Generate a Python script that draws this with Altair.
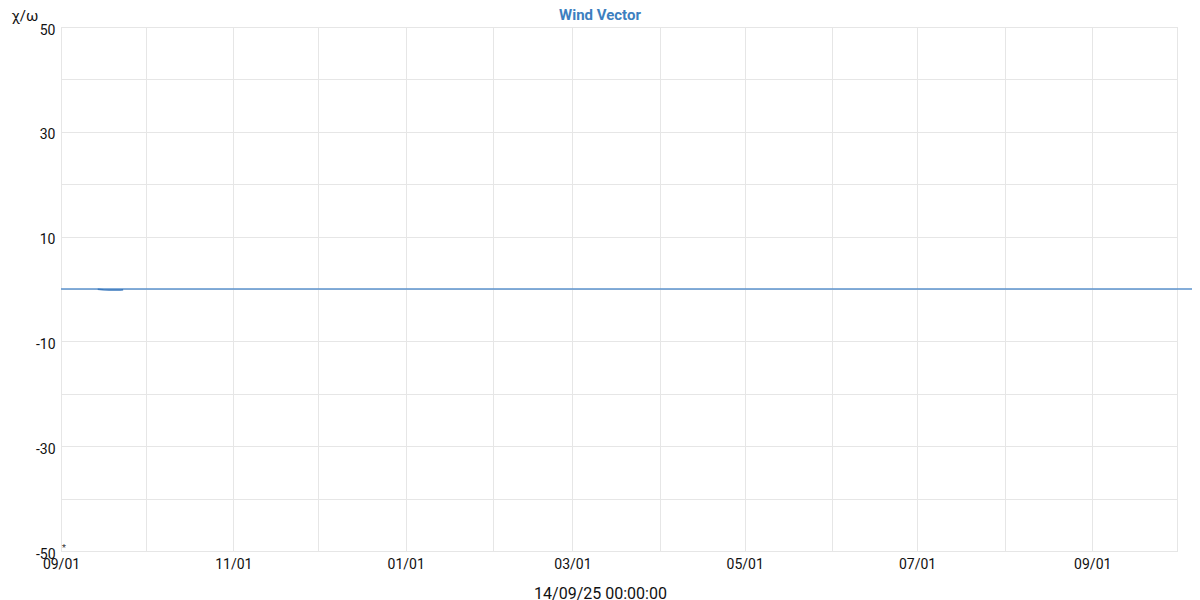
import altair as alt
import pandas as pd

# baseline series (whole span)
base_dates = ["2025-09-01", "2026-10-10"]
base_values = [0.0, 0.0]

# measured wind vector segment
seg_dates = ["2025-09-14", "2025-09-16", "2025-09-18", "2025-09-20", "2025-09-22", "2025-09-23"]
seg_values = [-0.05, -0.15, -0.2, -0.2, -0.2, -0.15]

y_ticks = [-50, -40, -30, -20, -10, 0, 10, 20, 30, 40, 50]
month_ticks = [(2025, m) for m in range(9, 13)] + [(2026, m) for m in range(1, 11)]

chart_title = ["Wind Vector"]

base_df = pd.DataFrame({"date": base_dates, "value": base_values})
seg_df = pd.DataFrame({"date": seg_dates, "value": seg_values})
star_df = pd.DataFrame({"date": ["2025-09-01"], "value": [-50], "label": ["*"]})
title_df = pd.DataFrame({"t": chart_title})

FONT = "Roboto"

x_scale = alt.Scale(
    type="utc",
    domain=[alt.DateTime(year=2025, month=9, date=1, utc=True),
            alt.DateTime(year=2026, month=10, date=1, utc=True)],
    nice=False,
)
y_scale = alt.Scale(domain=[-50, 50], nice=False)

x_axis = alt.Axis(
    values=[alt.DateTime(year=y, month=m, date=1, utc=True) for y, m in month_ticks],
    labelExpr="utcmonth(datum.value) % 2 == 0 ? utcFormat(datum.value, '%m/%d') : ''",
    title="14/09/25 00:00:00",
    titleFont=FONT, titleFontSize=16, titleFontWeight="normal", titleColor="#111111",
    titleAnchor="start", titleAlign="center", titleBaseline="alphabetic",
    titleX=539, titleY=47,
    labelFont=FONT, labelFontSize=14, labelColor="#111111", labelPadding=6,
    labelFlush=False, labelOverlap=False,
    ticks=False, domain=False, grid=True, gridColor="#e6e6e6", gridWidth=1,
)
y_axis = alt.Axis(
    values=y_ticks,
    labelExpr="(datum.value + 50) % 20 == 0 ? datum.value : ''",
    title="χ/ω",
    titleFont=FONT, titleFontSize=15, titleFontWeight="normal", titleColor="#111111",
    titleAngle=0, titleAlign="left", titleBaseline="alphabetic", titleX=-50, titleY=-7,
    labelFont=FONT, labelFontSize=14, labelColor="#111111", labelPadding=6,
    labelOffset=3, labelFlush=False, labelOverlap=False,
    ticks=False, domain=False, grid=True, gridColor="#e6e6e6", gridWidth=1,
)

base = alt.Chart(base_df).mark_line(color="#5b92cc", strokeWidth=1.5, clip=False).encode(
    x=alt.X("date:T", scale=x_scale, axis=x_axis),
    y=alt.Y("value:Q", scale=y_scale, axis=y_axis),
)
seg = alt.Chart(seg_df).mark_line(color="#3a78bd", strokeWidth=1.5).encode(
    x=alt.X("date:T", scale=x_scale),
    y=alt.Y("value:Q", scale=y_scale),
)
star = alt.Chart(star_df).mark_text(
    font=FONT, fontSize=9, color="#333333", align="left", baseline="bottom", dx=1, dy=2
).encode(
    x=alt.X("date:T", scale=x_scale),
    y=alt.Y("value:Q", scale=y_scale),
    text="label:N",
)
title_mark = alt.Chart(title_df).mark_text(
    font=FONT, fontSize=15, fontWeight="bold", color="#3d7fc0",
    align="center", baseline="alphabetic", clip=False,
).encode(
    x=alt.value(539),
    y=alt.value(-7.5),
    text="t:N",
)

chart = alt.layer(base, seg, star, title_mark).properties(
    width=1116,
    height=524,
    autosize=alt.AutoSizeParams(type="none"),
    padding={"left": 53, "top": 19, "right": 15, "bottom": 50},
).configure_view(stroke=None).configure(background="white")

chart.save("out.html", embed_options={"renderer": "svg", "actions": False})
